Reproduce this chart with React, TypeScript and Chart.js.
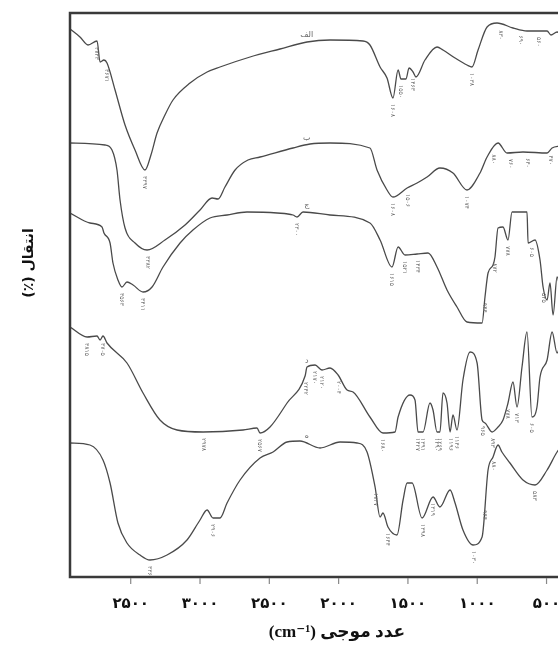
import React, { useEffect, useRef } from 'react';
import { Chart, registerables } from 'chart.js';

Chart.register(...registerables);

// x ticks (wavenumber, cm-1) and their printed labels (as printed in the figure)
const xTickValues = [3500, 3000, 2500, 2000, 1500, 1000, 500];
const xTickLabels = ['۲۵۰۰', '۳۰۰۰', '۲۵۰۰', '۲۰۰۰', '۱۵۰۰', '۱۰۰۰', '۵۰۰'];
const xTitle = 'عدد موجی (cm⁻¹)';
const yTitle = 'انتقال (٪)';
const seriesNames = ['الف', 'ب', 'ج', 'د', 'ه'];

// spectra: [wavenumber, offset transmittance (arb. units)]
const traceA: [number, number][] = [
  [3938, 548], [3866, 540], [3808, 532], [3743, 536], [3721, 515], [3693, 517], [3671, 514],
  [3613, 487], [3541, 452], [3469, 427], [3397, 407], [3354, 422], [3310, 444], [3253, 462],
  [3195, 477], [3072, 494], [2949, 505], [2856, 510], [2639, 520], [2423, 528], [2228, 535],
  [2062, 537], [1824, 536], [1774, 532], [1701, 510], [1651, 499], [1608, 479], [1571, 507],
  [1550, 498], [1514, 498], [1492, 509], [1463, 505], [1442, 500], [1377, 517], [1290, 530],
  [1247, 527], [1160, 519], [1074, 512], [1038, 510], [994, 527], [929, 550], [857, 554],
  [742, 549], [641, 546], [496, 546], [468, 542], [424, 545], [400, 544],
];
const traceB: [number, number][] = [
  [3938, 434], [3685, 432], [3635, 427], [3599, 407], [3577, 377], [3541, 349], [3469, 334],
  [3382, 327], [3253, 337], [3108, 352], [3000, 367], [2913, 379], [2870, 378], [2820, 390],
  [2747, 407], [2654, 417], [2567, 420], [2329, 429], [2206, 433], [2062, 434], [1774, 429],
  [1723, 407], [1651, 387], [1608, 380], [1506, 389], [1434, 394], [1362, 400], [1269, 409],
  [1175, 404], [1074, 387], [980, 404], [929, 420], [850, 434], [785, 424], [670, 425],
  [496, 424], [460, 429], [400, 431],
];
const traceC: [number, number][] = [
  [3938, 364], [3794, 354], [3707, 350], [3693, 344], [3649, 334], [3628, 314], [3592, 297],
  [3563, 290], [3527, 295], [3483, 292], [3411, 285], [3346, 290], [3267, 310], [3144, 334],
  [3051, 347], [2928, 359], [2805, 362], [2661, 365], [2444, 364], [2329, 362], [2300, 360],
  [2257, 365], [2062, 362], [1774, 354], [1701, 337], [1615, 310], [1571, 330], [1521, 322],
  [1434, 323], [1355, 324], [1290, 310], [1218, 287], [1146, 270], [1074, 255], [965, 254],
  [944, 280], [922, 304], [886, 312], [872, 320], [850, 349], [814, 350], [778, 337],
  [749, 365], [641, 365], [633, 334], [583, 337], [547, 317], [525, 290], [496, 277],
  [475, 294], [453, 262], [424, 300], [400, 287],
];
const traceD: [number, number][] = [
  [3938, 250], [3815, 240], [3743, 241], [3721, 237], [3700, 241], [3671, 234], [3527, 214],
  [3411, 184], [3289, 157], [3166, 147], [2978, 145], [2690, 147], [2589, 149], [2567, 144],
  [2495, 150], [2372, 174], [2242, 201], [2228, 210], [2170, 212], [2120, 207], [2062, 209],
  [2004, 202], [1939, 187], [1896, 185], [1774, 160], [1680, 144], [1593, 145], [1571, 160],
  [1485, 182], [1449, 177], [1427, 145], [1391, 145], [1341, 174], [1319, 167], [1290, 145],
  [1269, 145], [1247, 184], [1218, 174], [1196, 145], [1175, 162], [1146, 147], [1103, 197],
  [1052, 225], [1001, 214], [965, 157], [944, 154], [893, 145], [850, 150], [814, 157],
  [778, 174], [742, 195], [713, 170], [677, 210], [641, 245], [605, 160], [569, 170],
  [547, 200], [496, 217], [460, 245], [424, 224], [400, 232],
];
const traceE: [number, number][] = [
  [3938, 134], [3794, 132], [3700, 117], [3649, 94], [3592, 54], [3527, 34], [3433, 22],
  [3361, 17], [3238, 22], [3094, 37], [3000, 57], [2949, 67], [2906, 59], [2856, 59],
  [2805, 74], [2711, 97], [2567, 119], [2473, 125], [2372, 135], [2279, 136], [2134, 129],
  [1990, 135], [1867, 134], [1795, 125], [1737, 90], [1701, 60], [1680, 64], [1644, 50],
  [1579, 42], [1535, 77], [1506, 94], [1470, 94], [1398, 59], [1319, 80], [1269, 70],
  [1196, 87], [1160, 74], [1103, 47], [1030, 32], [965, 40], [922, 107], [886, 120],
  [850, 132], [822, 125], [764, 114], [670, 97], [583, 92], [496, 107], [424, 125], [400, 129],
];
const traces = [traceA, traceB, traceC, traceD, traceE];

// marked band positions (cm-1) printed beside each spectrum
const peaksA = [3743, 3671, 3397, 1608, 1550, 1463, 1038, 830, 690, 560];
const peaksB = [3382, 1608, 1506, 1074, 880, 760, 640, 470];
const peaksC = [3563, 3411, 2300, 1615, 1521, 1434, 944, 872, 778, 605, 525];
const peaksD = [3815, 3705, 2978, 2567, 2242, 2170, 2120, 2004, 1680, 1427, 1391, 1290, 1269, 1196, 1146, 965, 893, 778, 713, 605];
const peaksE = [3361, 2906, 1737, 1644, 1398, 1319, 1030, 944, 880, 583];
const peakSets = [peaksA, peaksB, peaksC, peaksD, peaksE];

const X_MIN = 400;
const X_MAX = 3938;
const Y_MIN = 0;
const Y_MAX = 564;

const toPersian = (n: number) =>
  String(n).replace(/[0-9]/g, (d) => '۰۱۲۳۴۵۶۷۸۹'[Number(d)]);

const interp = (data: [number, number][], x: number) => {
  for (let i = 0; i < data.length - 1; i++) {
    const [x0, y0] = data[i];
    const [x1, y1] = data[i + 1];
    if ((x <= x0 && x >= x1) || (x >= x0 && x <= x1)) {
      const t = x1 === x0 ? 0 : (x - x0) / (x1 - x0);
      return y0 + t * (y1 - y0);
    }
  }
  return data[data.length - 1][1];
};

const decorPlugin = {
  id: 'decor',
  afterDatasetsDraw(chart: any) {
    const { ctx, chartArea, scales } = chart;
    const xs = scales.x;
    const ys = scales.y;
    ctx.save();

    // peak labels
    ctx.fillStyle = '#707070';
    ctx.font = '6px "DejaVu Sans"';
    peakSets.forEach((peaks, si) => {
      peaks.forEach((p) => {
        const px = xs.getPixelForValue(p);
        const py = ys.getPixelForValue(interp(traces[si], p));
        ctx.save();
        ctx.translate(px, py + 6);
        ctx.rotate(Math.PI / 2);
        ctx.textAlign = 'left';
        ctx.textBaseline = 'middle';
        ctx.fillText(toPersian(p), 0, 0);
        ctx.restore();
      });
    });

    // series letters
    ctx.font = '8px "DejaVu Sans"';
    ctx.textAlign = 'center';
    ctx.textBaseline = 'bottom';
    ctx.fillStyle = '#666';
    seriesNames.forEach((name, si) => {
      const wx = 2230;
      const px = xs.getPixelForValue(wx);
      const py = ys.getPixelForValue(interp(traces[si], wx));
      ctx.fillText(name, px, py - 3);
    });

    // frame
    ctx.strokeStyle = '#3a3a3a';
    ctx.lineWidth = 2.5;
    ctx.strokeRect(chartArea.left, chartArea.top, chartArea.right - chartArea.left, chartArea.bottom - chartArea.top);

    // tick marks and labels
    ctx.strokeStyle = '#888';
    ctx.lineWidth = 1.2;
    ctx.fillStyle = '#111';
    ctx.font = 'bold 15px "DejaVu Sans"';
    ctx.textAlign = 'center';
    ctx.textBaseline = 'middle';
    xTickValues.forEach((v, i) => {
      const px = xs.getPixelForValue(v);
      ctx.beginPath();
      ctx.moveTo(px, chartArea.bottom + 1);
      ctx.lineTo(px, chartArea.bottom + 7);
      ctx.stroke();
      ctx.fillText(xTickLabels[i], px, 604);
    });

    // axis titles
    ctx.direction = 'rtl';
    ctx.fillStyle = '#111';
    ctx.font = 'bold 17px "Liberation Serif", "DejaVu Sans"';
    ctx.textAlign = 'center';
    ctx.textBaseline = 'middle';
    ctx.fillText(xTitle, 337, 633);

    ctx.save();
    ctx.translate(29, 263);
    ctx.rotate(-Math.PI / 2);
    ctx.font = 'bold 14px "DejaVu Sans"';
    ctx.fillText(yTitle, 0, 0);
    ctx.restore();

    ctx.restore();
  },
};

export default function App() {
  const ref = useRef<HTMLCanvasElement | null>(null);

  useEffect(() => {
    if (!ref.current) return;
    const chart = new Chart(ref.current, {
      type: 'line',
      data: {
        datasets: traces.map((t, i) => ({
          label: seriesNames[i],
          data: t.map(([x, y]) => ({ x, y })),
          borderColor: '#4a4a4a',
          borderWidth: 1.3,
          pointRadius: 0,
          cubicInterpolationMode: 'monotone' as const,
          fill: false,
        })),
      },
      options: {
        animation: false,
        responsive: false,
        maintainAspectRatio: false,
        devicePixelRatio: 1,
        events: [],
        layout: { padding: { left: 70, top: 13, right: 5.6, bottom: 78 } },
        plugins: { legend: { display: false }, tooltip: { enabled: false }, title: { display: false } },
        scales: {
          x: { type: 'linear', reverse: true, min: X_MIN, max: X_MAX, display: false },
          y: { type: 'linear', min: Y_MIN, max: Y_MAX, display: false },
        },
      },
      plugins: [decorPlugin],
    });
    return () => chart.destroy();
  }, []);

  return (
    <div style={{ position: 'fixed', left: 0, top: 0, width: 558, height: 655, overflow: 'hidden', background: '#fff' }}>
      <canvas ref={ref} width={566} height={655} style={{ width: 566, height: 655, display: 'block' }} />
    </div>
  );
}
